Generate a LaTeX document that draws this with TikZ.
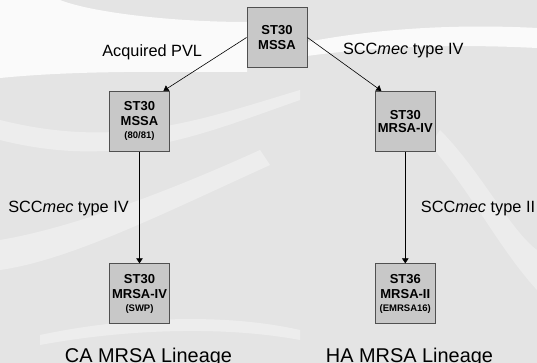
\documentclass[tikz,border=0pt]{standalone}
\usepackage{fontspec}
\setmainfont{Liberation Sans}
\usetikzlibrary{arrows.meta}
\definecolor{bggray}{HTML}{E4E4E4}
\definecolor{boxgray}{HTML}{C8C8C8}
\definecolor{boxline}{HTML}{505050}
\tikzstyle{st}=[shape=rectangle,
                draw=boxline,
                fill=boxgray,
                line width=0.9pt,
                minimum height=60pt,
                minimum width=60pt,
                inner sep=0pt,
                align=center,
                font=\fontsize{13}{14.5}\selectfont\bfseries]
\tikzstyle{lbl}=[font=\fontsize{16.3}{18}\selectfont]
\tikzstyle{lin}=[font=\fontsize{19.9}{22}\selectfont,anchor=base]
\newcommand{\sm}[1]{{\fontsize{9.5}{11}\selectfont #1}}

\begin{document}
\begin{tikzpicture}[>={Triangle[length=5pt,width=6.5pt]},x=1pt,y=-1pt,line width=0.6pt]

\useasboundingbox (0,0) rectangle (537,363);
\clip (0,0) rectangle (537,363);

% background swooshes
\fill[bggray] (0,0) rectangle (537,363);
\fill[white,opacity=0.85] (0,0) -- (0,78) .. controls (80,70) and (170,72) .. (247,72)
    -- (247,22) .. controls (170,22) and (90,12) .. (60,0) -- cycle;
\fill[white,opacity=0.85] (307,42) .. controls (380,28) and (460,24) .. (537,28)
    -- (537,48) .. controls (460,44) and (380,46) .. (307,56) -- cycle;
\fill[white,opacity=0.35] (0,120) .. controls (120,150) and (200,120) .. (300,90)
    -- (300,100) .. controls (200,135) and (120,170) .. (0,140) -- cycle;
\fill[white,opacity=0.35] (0,240) .. controls (60,230) and (150,200) .. (260,150)
    -- (270,165) .. controls (160,215) and (70,260) .. (0,270) -- cycle;
\fill[white,opacity=0.3] (440,130) .. controls (480,170) and (510,230) .. (537,250)
    -- (537,290) .. controls (500,250) and (470,190) .. (430,145) -- cycle;
\fill[white,opacity=0.35] (40,345) .. controls (120,330) and (220,325) .. (300,340)
    -- (300,330) .. controls (220,312) and (120,318) .. (40,335) -- cycle;

% strains
\node[st] (top) at (277,37.5)   {ST30\\MSSA};
\node[st] (pvl) at (139.5,121.3) {ST30\\MSSA\\[-1pt]\sm{(80/81)}};
\node[st] (ivr) at (405.3,121.3) {ST30\\[-2pt]MRSA-IV};
\node[st] (swp) at (139.5,293.8) {ST30\\MRSA-IV\\[-1.5pt]\sm{(SWP)}};
\node[st] (em16) at (405.3,293.8) {ST36\\MRSA-II\\[-1.5pt]\sm{(EMRSA16)}};

% paths
\path[->] (top.west) edge ([xshift=-6.5pt]pvl.north east);
\path[->] (top.east) edge ([xshift=6.5pt]ivr.north west);
\path[->] (pvl) edge (swp);
\path[->] (ivr) edge (em16);

% labels
\node[lbl] (l1) at (152.2,52) {Acquired PVL};
\node[lbl] (l2) at (403.3,51)   {SCC\textit{mec} type IV};
\node[lbl] (l3) at (68.5,209)   {SCC\textit{mec} type IV};
\node[lbl] (l4) at (478,209)  {SCC\textit{mec} type II};

% lineages
\node[lin] (ca) at (148.5,362) {CA MRSA Lineage};
\node[lin] (ha) at (409.5,362) {HA MRSA Lineage};

\end{tikzpicture}
\end{document}
